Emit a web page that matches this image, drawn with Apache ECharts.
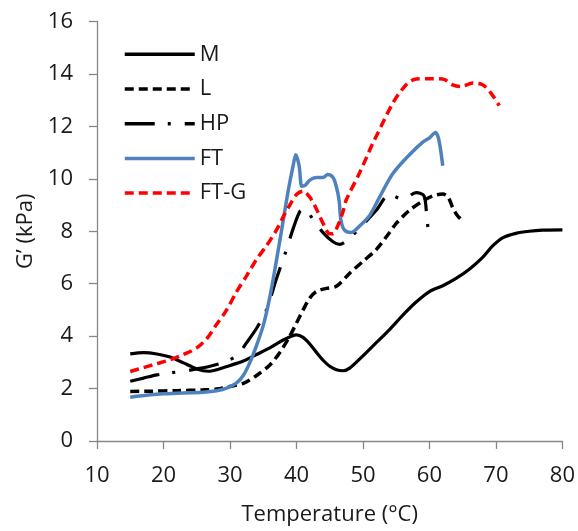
<!DOCTYPE html>
<html>
<head>
<meta charset="utf-8">
<script src="https://cdn.jsdelivr.net/npm/echarts@6/dist/echarts.min.js"></script>
<style>
  html, body { margin: 0; padding: 0; background: #fff; }
  #chart { width: 578px; height: 531px; }
</style>
</head>
<body>
<div id="chart"></div>
<script>
// Storage modulus G' (kPa) versus temperature (°C) for five gel samples.
// Each series is a list of [temperature, G'] pairs.
const seriesNames = ['M', 'L', 'HP', 'FT', 'FT-G'];

const dataM = [
  [15, 3.32], [17, 3.37], [19, 3.32], [21, 3.2], [23, 2.98], [25, 2.75], [26.7, 2.66],
  [28, 2.72], [30, 2.88], [32, 3.05], [34, 3.3], [36, 3.55], [38, 3.85], [40, 4.05],
  [41, 3.95], [42, 3.7], [43, 3.38], [44, 3.08], [45, 2.85], [46, 2.72], [47, 2.68],
  [48, 2.78], [50, 3.25], [52, 3.75], [54, 4.25], [56, 4.8], [58, 5.3], [60, 5.7],
  [62, 5.92], [64, 6.2], [66, 6.55], [68, 7.0], [69.5, 7.44], [71, 7.75], [73, 7.92],
  [75, 8.0], [77, 8.04], [80, 8.05]
];

const dataL = [
  [15, 1.89], [18, 1.9], [22, 1.92], [26, 1.95], [28, 1.98], [30, 2.08], [32, 2.2],
  [34, 2.5], [36, 2.9], [37.5, 3.38], [39, 4.0], [40, 4.5], [41, 5.0], [42, 5.45],
  [43, 5.7], [44.5, 5.82], [46, 5.9], [48, 6.4], [50, 6.85], [52, 7.3], [54, 7.95],
  [55, 8.3], [57, 8.8], [59, 9.15], [60.5, 9.35], [62, 9.42], [62.8, 9.3], [63.5, 8.9],
  [64.2, 8.6], [65, 8.4]
];

const dataHP = [
  [15, 2.28], [17, 2.4], [19, 2.52], [21, 2.6], [23, 2.66], [25, 2.75], [27, 2.85],
  [29, 3.0], [31, 3.25], [32.5, 3.75], [34, 4.3], [35.5, 5.0], [37, 6.2], [38.5, 7.3],
  [39.5, 8.1], [40.5, 8.75], [41.2, 8.85], [42.5, 8.45], [44, 7.95], [45.5, 7.6],
  [46.5, 7.5], [48, 7.75], [50, 8.25], [52, 8.8], [54, 9.4], [56, 9.22], [58, 9.47],
  [59.2, 9.34], [59.6, 8.5], [60, 7.7]
];

const dataFT = [
  [15, 1.67], [18, 1.76], [20, 1.8], [22, 1.82], [24, 1.84], [26, 1.86], [28, 1.92],
  [29.5, 2.02], [31, 2.22], [32, 2.5], [33, 3.0], [34, 3.65], [35, 4.4], [36, 5.5],
  [37, 6.9], [38, 8.4], [38.8, 9.6], [39.5, 10.5], [39.9, 10.92], [40.4, 10.5],
  [40.8, 9.72], [41.3, 9.75], [42, 9.95], [43, 10.05], [44, 10.05], [44.7, 10.16],
  [45.5, 10.05], [46, 9.7], [46.4, 9.2], [46.7, 8.4], [47.2, 8.05], [48.2, 7.95],
  [49.5, 8.2], [51, 8.6], [52.5, 9.3], [54.5, 10.2], [57, 10.92], [59, 11.4],
  [60, 11.56], [60.9, 11.77], [61.4, 11.5], [62, 10.5]
];

const dataFTG = [
  [15, 2.65], [17, 2.8], [19, 2.95], [21, 3.1], [23, 3.3], [25, 3.55], [26.5, 3.9],
  [28, 4.45], [29.5, 5.0], [31, 5.7], [32.5, 6.3], [34, 6.93], [35.5, 7.45], [37, 8.05],
  [38, 8.55], [39, 9.0], [40, 9.4], [41, 9.53], [42, 9.3], [43, 8.85], [44, 8.3],
  [45, 7.9], [45.5, 7.9], [46.2, 8.2], [47, 8.75], [47.5, 9.2], [49.5, 10.23],
  [51.5, 11.37], [52, 11.62], [54.5, 12.89], [56.5, 13.59], [58, 13.81], [60, 13.82],
  [62, 13.81], [63.5, 13.58], [64.75, 13.52], [66.5, 13.65], [68, 13.59],
  [69.25, 13.27], [70.5, 12.79]
];

const FONT = '"Open Sans", "Liberation Sans", sans-serif';
const AXIS_GREY = '#878787';
const TEXT_COLOR = '#1a1a1a';

function lineSeries(name, data, color, width, dash) {
  return {
    name: name,
    type: 'line',
    data: data,
    symbol: 'none',
    smooth: 0.3,
    lineStyle: { color: color, width: width, type: dash, cap: 'butt' },
    itemStyle: { color: color },
    z: 2
  };
}

const chart = echarts.init(document.getElementById('chart'), null, { renderer: 'canvas' });

chart.setOption({
  animation: false,
  backgroundColor: '#ffffff',
  grid: { left: 97, right: 15, top: 21.5, bottom: 89 },
  legend: {
    orient: 'vertical',
    left: 123,
    top: 43.3,
    padding: 0,
    itemWidth: 70,
    itemHeight: 20,
    itemGap: 12.7,
    itemStyle: { opacity: 0, borderWidth: 0 },
    lineStyle: { width: 3.5 },
    textStyle: { fontFamily: FONT, fontSize: 22, color: TEXT_COLOR, lineHeight: 20 },
    data: seriesNames
  },
  xAxis: {
    type: 'value',
    min: 10,
    max: 80,
    interval: 10,
    name: 'Temperature (°C)',
    nameLocation: 'middle',
    nameGap: 63,
    nameTextStyle: { fontFamily: FONT, fontSize: 22, color: TEXT_COLOR },
    splitLine: { show: false },
    axisLine: { lineStyle: { color: AXIS_GREY, width: 1.3 } },
    axisTick: { length: 8, lineStyle: { color: AXIS_GREY, width: 1.3 } },
    axisLabel: { fontFamily: FONT, fontSize: 22, color: TEXT_COLOR, margin: 24 }
  },
  yAxis: {
    type: 'value',
    min: 0,
    max: 16,
    interval: 2,
    name: 'G’ (kPa)',
    nameLocation: 'middle',
    nameGap: 58,
    nameRotate: 90,
    nameTextStyle: { fontFamily: FONT, fontSize: 22, color: TEXT_COLOR },
    splitLine: { show: false },
    axisLine: { show: true, lineStyle: { color: AXIS_GREY, width: 1.3 } },
    axisTick: { show: true, length: 8, lineStyle: { color: AXIS_GREY, width: 1.3 } },
    axisLabel: { fontFamily: FONT, fontSize: 22, color: TEXT_COLOR, margin: 24 }
  },
  series: [
    lineSeries('M', dataM, '#000000', 3.2, 'solid'),
    lineSeries('L', dataL, '#000000', 3.5, [9, 5]),
    lineSeries('HP', dataHP, '#000000', 3.2, [30, 13, 3, 14]),
    lineSeries('FT', dataFT, '#4f81bd', 3.5, 'solid'),
    lineSeries('FT-G', dataFTG, '#ff0000', 3.5, [9, 5])
  ]
});
</script>
</body>
</html>
